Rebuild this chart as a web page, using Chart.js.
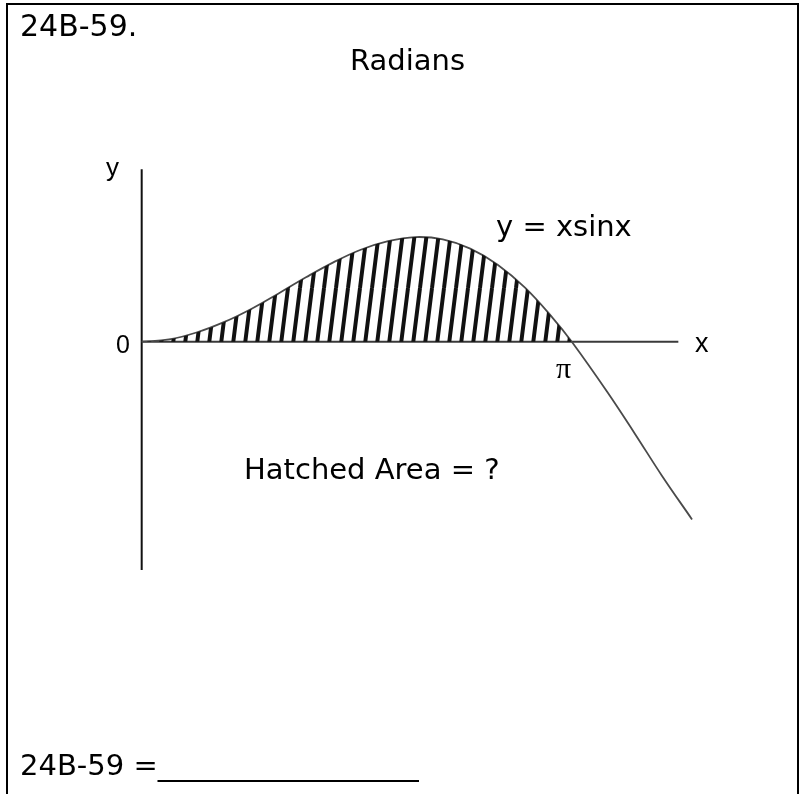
<!DOCTYPE html>
<html>
<head>
<meta charset="utf-8">
<script src="https://cdn.jsdelivr.net/npm/chart.js@4.4.1/dist/chart.umd.min.js"></script>
<style>
  body { margin: 0; background: #fff; }
  #page { position: relative; width: 801px; height: 794px; overflow: hidden; }
  #frame { position: absolute; left: 6px; top: 3px; width: 789px; height: 820px; border: 2px solid #000; }
  canvas { position: absolute; left: 0; top: 0; }
  .t { position: absolute; white-space: pre; line-height: 1; color: #000; }
  .v { font-family: "DejaVu Sans", Verdana, sans-serif; }
  .a { font-family: "Liberation Sans", Arial, sans-serif; }
  .s { font-family: "Liberation Serif", "Times New Roman", serif; }
</style>
</head>
<body>
<div id="page">
  <div id="frame"></div>
  <canvas id="myChart" width="801" height="794"></canvas>
  <div class="t v" style="left:20px; top:10.6px; font-size:30px;">24B-59.</div>
  <div class="t v" style="left:350px; top:45.5px; font-size:29px;">Radians</div>
  <div class="t a" style="left:106px; top:154px; font-size:26px;">y</div>
  <div class="t a" style="left:116px; top:331.8px; font-size:25px;">0</div>
  <div class="t a" style="left:695px; top:330px; font-size:27px;">x</div>
  <div class="t s" style="left:556px; top:353px; font-size:30px;">π</div>
  <div class="t v" style="left:496px; top:211.5px; font-size:29px;">y = xsinx</div>
  <div class="t v" style="left:244px; top:454.5px; font-size:29px;">Hatched Area = ?</div>
  <div class="t v" style="left:20px; top:750.5px; font-size:29px;">24B-59 =__________________</div>
</div>
<script>
    // curve (x in radians)
    var xValues = [0, 0.2, 0.4, 0.6, 0.8, 1.0, 1.2, 1.4, 1.6, 1.8, 2.0, 2.2, 2.4, 2.6, 2.8, 3.0, 3.1416, 3.4, 3.6, 3.8, 4.02];
    var yValues = [0, 0.04, 0.16, 0.34, 0.57, 0.84, 1.12, 1.38, 1.60, 1.75, 1.82, 1.78, 1.62, 1.34, 0.94, 0.42, 0, -0.87, -1.59, -2.33, -3.09];
    var hatchTo = 3.1416;   // hatched from 0 to pi

    // axis lines
    var xAxisLine = [[0, 0], [3.92, 0]];
    var yAxisLine = [[0, 3.0], [0, -3.97]];

    var curve = xValues.map(function (x, i) { return { x: x, y: yValues[i] }; });
    var hatched = curve.filter(function (p) { return p.x <= hatchTo; });
    var toPts = function (arr) { return arr.map(function (p) { return { x: p[0], y: p[1] }; }); };

    function hatchPattern() {
        var w = 12, h = 96;
        var c = document.createElement('canvas');
        c.width = w; c.height = h;
        var g = c.getContext('2d');
        g.strokeStyle = '#111';
        g.lineWidth = 4;
        [-w, 0, w].forEach(function (o) {
            g.beginPath();
            g.moveTo(o, h);
            g.lineTo(o + w, 0);
            g.stroke();
        });
        return g.createPattern(c, 'repeat');
    }

    const ctx = document.getElementById('myChart');

    new Chart(ctx, {
        type: 'scatter',
        data: {
            datasets: [{
                data: hatched,
                showLine: true,
                fill: 'origin',
                backgroundColor: hatchPattern(),
                borderWidth: 0,
                pointRadius: 0,
                tension: 0.4
            }, {
                data: curve,
                showLine: true,
                fill: false,
                borderColor: '#4a4a4a',
                borderWidth: 1.8,
                pointRadius: 0,
                tension: 0.4
            }, {
                data: toPts(xAxisLine),
                showLine: true,
                borderColor: '#3a3a3a',
                borderWidth: 2,
                pointRadius: 0
            }, {
                data: toPts(yAxisLine),
                showLine: true,
                borderColor: '#111',
                borderWidth: 2,
                pointRadius: 0
            }]
        },
        options: {
            responsive: false,
            animation: false,
            layout: { padding: 0 },
            plugins: {
                legend: { display: false },
                tooltip: { enabled: false }
            },
            scales: {
                x: { type: 'linear', min: -1.035, max: 4.816, display: false },
                y: { type: 'linear', min: -7.866, max: 5.943, display: false }
            }
        }
    });
</script>
</body>
</html>
